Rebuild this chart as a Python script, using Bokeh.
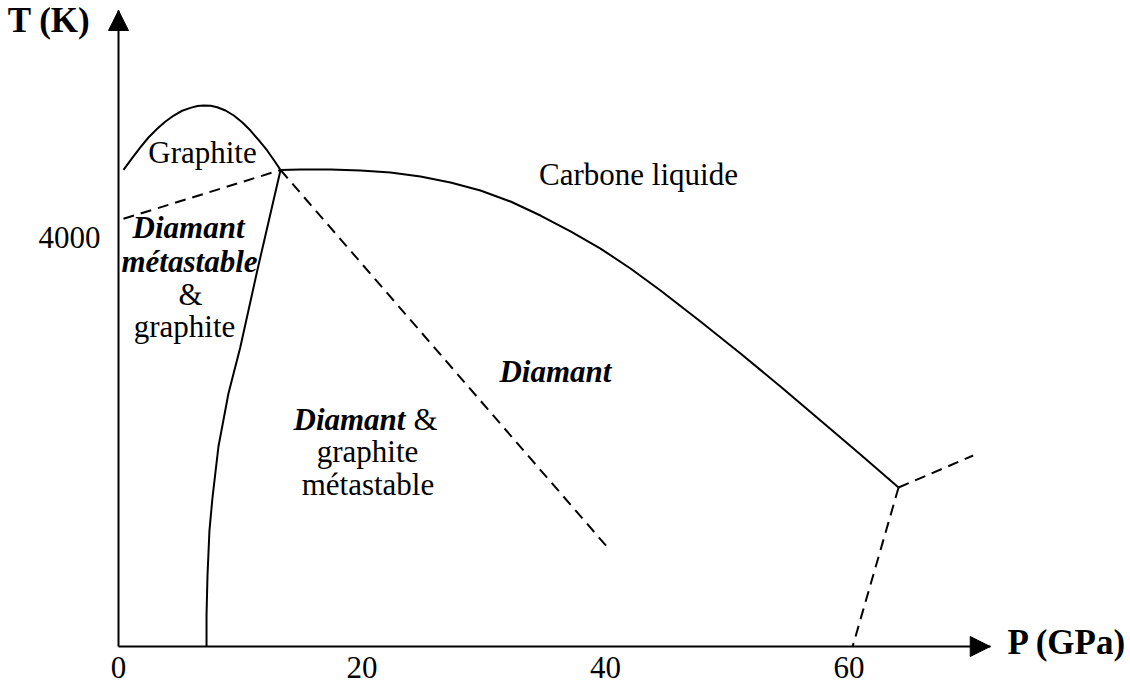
from bokeh.plotting import figure
from bokeh.models import Range1d, FixedTicker, Arrow, NormalHead
from bokeh.core.properties import value
from bokeh.embed import file_html
from bokeh.resources import INLINE

# ---------------- data (P in GPa, T in K), read off the schematic ----------------
# graphite melting curve (solid)
graphite_melt_P = [0.41, 1.15, 1.81, 2.46, 3.18, 3.86, 4.54, 5.17, 5.91, 6.49, 7.0,
                   7.56, 8.11, 8.79, 9.47, 10.18, 10.84, 11.5, 12.21, 12.73, 13.31]
graphite_melt_T = [4662, 4782, 4883, 4978, 5063, 5134, 5193, 5237, 5268, 5286, 5291,
                   5288, 5274, 5242, 5193, 5125, 5046, 4954, 4851, 4763, 4660]

# diamond melting curve (solid), triple point -> second triple point
liquid_P = [13.31, 14.95, 17.41, 19.88, 22.34, 24.8, 27.27, 29.73, 32.2, 34.66,
            37.13, 39.59, 42.05, 44.52, 47.8, 51.09, 54.37, 57.66, 60.94, 64.07]
liquid_T = [4660, 4665, 4665, 4655, 4636, 4597, 4538, 4460, 4352, 4215,
            4059, 3892, 3697, 3482, 3178, 2866, 2543, 2210, 1878, 1555]

# graphite / diamond equilibrium boundary (solid)
gd_boundary_P = [13.31, 11.4, 10.0, 9.03, 8.21, 7.72, 7.47, 7.31, 7.23, 7.23]
gd_boundary_T = [4660, 3677, 2924, 2474, 1956, 1457, 1134, 694, 303, 0]

# metastable extensions / other boundaries (dashed)
graphite_ext_P = [0.41, 13.31]
graphite_ext_T = [4183, 4660]
metastable_P = [13.31, 40.25]
metastable_T = [4660, 958]
high_p_upper_P = [64.07, 70.2]
high_p_upper_T = [1555, 1868]
high_p_lower_P = [64.07, 60.3]
high_p_lower_T = [1555, 0]

# axis ticks
p_ticks = [0, 20, 40, 60]
t_ticks = [4000]
P_AXIS_END = 71.6
T_AXIS_END = 6220

# region labels: regular text
reg_labels = ["Graphite", "Carbone liquide", "&", "graphite", "graphite", "métastable"]
reg_P = [6.90, 42.71, 5.91, 5.42, 20.45, 20.49]
reg_T = [4724, 4509, 3335, 3022, 1800, 1477]
# region labels: bold italic
bi_labels = ["Diamant", "métastable", "Diamant"]
bi_P = [5.75, 5.83, 35.89]
bi_T = [3990, 3658, 2582]
# mixed line "Diamant &"
mix_bi_label, mix_bi_P, mix_bi_T = ["Diamant"], [23.57], [2112]
mix_reg_label, mix_reg_P, mix_reg_T = ["&"], [24.23], [2112]

# axis titles
x_title, x_title_P, x_title_T = ["P (GPa)"], [73.02], [-68]
y_title, y_title_P, y_title_T = ["T (K)"], [-9.1], [6015]

# ---------------- layout ----------------
W, H = 1130, 688
ORIGIN_X, ORIGIN_Y = 118, 646
PX_PER_GPA = 12.175
PX_PER_K = 0.10225
FONT = "Liberation Serif"
TEXT_SHIFT = -11   # screen-px correction of the alphabetic baseline

p = figure(width=W, height=H, output_backend="svg", toolbar_location=None,
           x_range=Range1d(-ORIGIN_X / PX_PER_GPA, (W - ORIGIN_X) / PX_PER_GPA),
           y_range=Range1d(-(H - ORIGIN_Y) / PX_PER_K, ORIGIN_Y / PX_PER_K),
           min_border=0, min_border_left=0, min_border_right=0,
           min_border_top=0, min_border_bottom=0)
p.outline_line_color = None
p.xgrid.visible = False
p.ygrid.visible = False
p.background_fill_color = "white"
p.border_fill_color = "white"

xa = p.xaxis[0]
xa.fixed_location = 0
xa.bounds = (0, P_AXIS_END)
xa.ticker = FixedTicker(ticks=p_ticks)
ya = p.yaxis[0]
ya.fixed_location = 0
ya.bounds = (0, T_AXIS_END)
ya.ticker = FixedTicker(ticks=t_ticks)
for ax in (xa, ya):
    ax.axis_line_width = 2
    ax.axis_line_color = "black"
    ax.major_tick_line_color = None
    ax.minor_tick_line_color = None
    ax.major_tick_out = 0
    ax.major_tick_in = 0
    ax.minor_tick_out = 0
    ax.minor_tick_in = 0
    ax.major_label_text_font = FONT
    ax.major_label_text_font_size = "31px"
    ax.major_label_text_color = "black"
xa.major_label_standoff = 10
ya.major_label_standoff = 18

head_x = NormalHead(size=20, fill_color="black", line_color="black", line_width=1)
head_y = NormalHead(size=20, fill_color="black", line_color="black", line_width=1)
p.add_layout(Arrow(end=head_x, x_start=P_AXIS_END - 1, y_start=0, x_end=P_AXIS_END, y_end=0,
                   line_width=2, line_color="black"))
p.add_layout(Arrow(end=head_y, x_start=0, y_start=T_AXIS_END - 100, x_end=0, y_end=T_AXIS_END,
                   line_width=2, line_color="black"))

solid = dict(line_width=2, line_color="black")
dashed = dict(line_width=2, line_color="black", line_dash="11 7")
p.line(graphite_melt_P, graphite_melt_T, **solid)
p.line(liquid_P, liquid_T, **solid)
p.line(gd_boundary_P, gd_boundary_T, **solid)
p.line(graphite_ext_P, graphite_ext_T, **dashed)
p.line(metastable_P, metastable_T, **dashed)
p.line(high_p_upper_P, high_p_upper_T, **dashed)
p.line(high_p_lower_P, high_p_lower_T, **dashed)

txt = dict(text_font=value(FONT), text_font_size="31px", text_color="black",
           text_baseline="alphabetic", y_offset=TEXT_SHIFT)
p.text(reg_P, reg_T, text=reg_labels, text_align="center", **txt)
p.text(bi_P, bi_T, text=bi_labels, text_align="center", text_font_style="bold italic", **txt)
p.text(mix_bi_P, mix_bi_T, text=mix_bi_label, text_align="right", text_font_style="bold italic", **txt)
p.text(mix_reg_P, mix_reg_T, text=mix_reg_label, text_align="left", **txt)

ttl = dict(text_font=value(FONT), text_font_size="35px", text_color="black",
           text_baseline="alphabetic", text_font_style="bold", text_align="left",
           y_offset=TEXT_SHIFT)
p.text(x_title_P, x_title_T, text=x_title, **ttl)
p.text(y_title_P, y_title_T, text=y_title, **ttl)

open("out.html", "w").write(file_html(p, INLINE))
